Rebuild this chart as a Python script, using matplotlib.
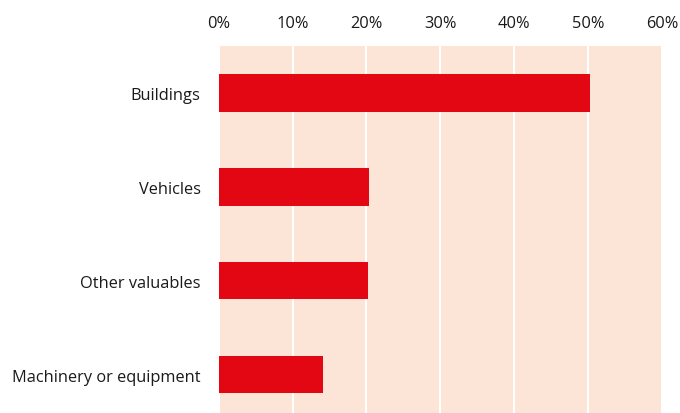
import matplotlib
matplotlib.use("Agg")
import matplotlib.pyplot as plt
from matplotlib.ticker import FuncFormatter

categories = ["Buildings", "Vehicles", "Other valuables", "Machinery or equipment"]
shares = [50.3, 20.3, 20.2, 14.1]
ticks = [0, 10, 20, 30, 40, 50, 60]

plt.rcParams["font.family"] = ["Open Sans", "DejaVu Sans"]

fig = plt.figure(figsize=(6.8, 4.14), dpi=100)
ax = fig.add_axes([218.7 / 680, 0, 443.3 / 680, (414 - 47) / 414])
ax.set_facecolor("#FCE4D6")

ax.barh(range(len(categories)), shares, height=0.4, color="#E30613", zorder=3)

ax.set_xlim(0, 60)
ax.set_ylim(3.41, -0.5)
ax.set_xticks(ticks)
ax.xaxis.set_major_formatter(FuncFormatter(lambda v, _: f"{v:.0f}%"))
ax.xaxis.tick_top()
ax.set_yticks(range(len(categories)))
ax.set_yticklabels(categories)
ax.tick_params(axis="x", length=0, pad=11, labelsize=11.8, colors="#1a1a1a")
ax.tick_params(axis="y", length=0, pad=13, labelsize=11.8, colors="#1a1a1a")

ax.grid(axis="x", color="white", lw=1.5, zorder=1)
for s in ax.spines.values():
    s.set_visible(False)

fig.savefig("out.png", dpi=100)
